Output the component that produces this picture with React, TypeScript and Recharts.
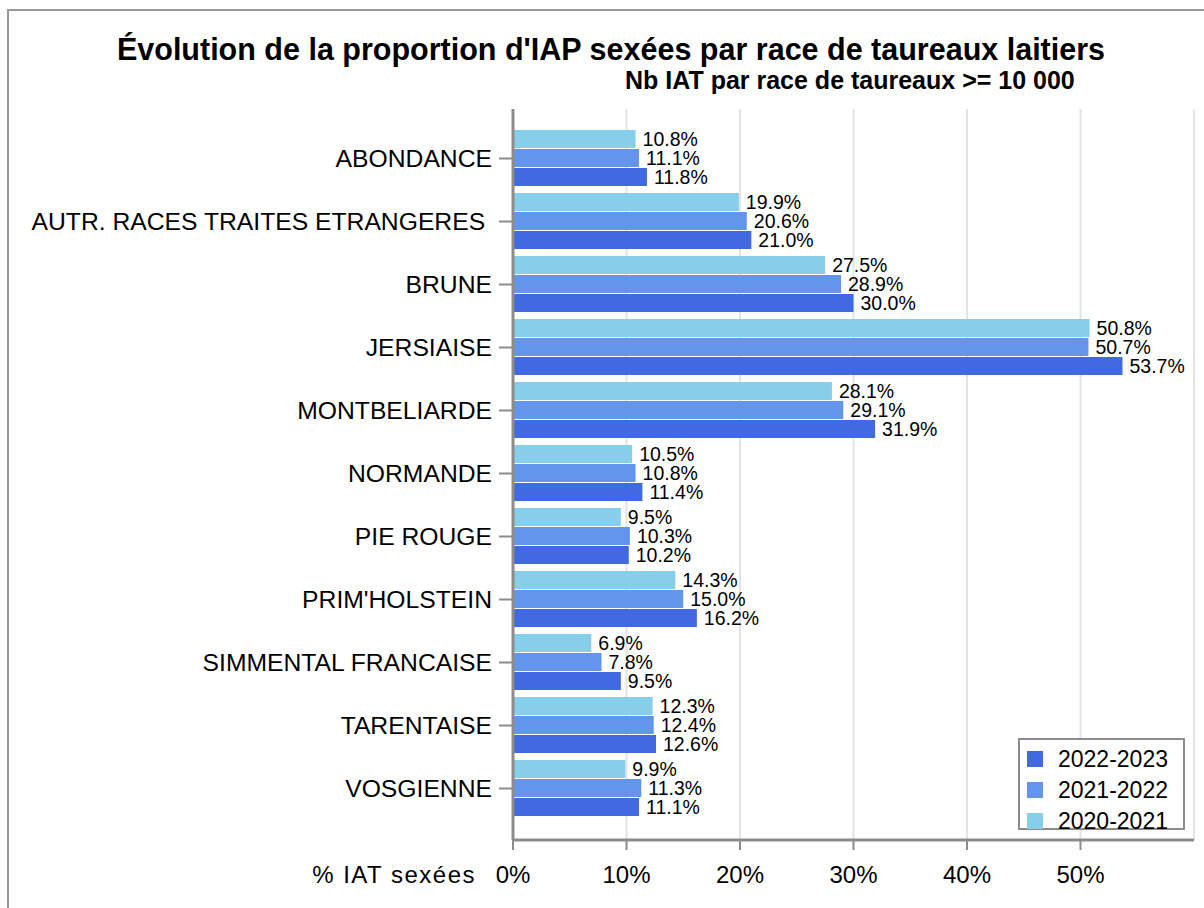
import React from 'react';
import { BarChart, Bar, XAxis, YAxis, CartesianGrid, LabelList } from 'recharts';

const races = [
  'ABONDANCE',
  'AUTR. RACES TRAITES ETRANGERES\u00A0',
  'BRUNE',
  'JERSIAISE',
  'MONTBELIARDE',
  'NORMANDE',
  'PIE ROUGE',
  "PRIM'HOLSTEIN",
  'SIMMENTAL FRANCAISE',
  'TARENTAISE',
  'VOSGIENNE',
];

const saison2020 = [10.8, 19.9, 27.5, 50.8, 28.1, 10.5, 9.5, 14.3, 6.9, 12.3, 9.9];
const saison2021 = [11.1, 20.6, 28.9, 50.7, 29.1, 10.8, 10.3, 15.0, 7.8, 12.4, 11.3];
const saison2022 = [11.8, 21.0, 30.0, 53.7, 31.9, 11.4, 10.2, 16.2, 9.5, 12.6, 11.1];

const xTicks = [0, 10, 20, 30, 40, 50];

const data = races.map((name, i) => ({
  name,
  s2020: saison2020[i],
  s2021: saison2021[i],
  s2022: saison2022[i],
}));

const FONT = '"Liberation Sans", Arial, sans-serif';
const AXIS_GREY = '#8c8c8c';

const series = [
  { key: 's2020', label: '2020-2021', color: '#87CEEB' },
  { key: 's2021', label: '2021-2022', color: '#6495ED' },
  { key: 's2022', label: '2022-2023', color: '#4169E1' },
];

const fmt = (v: any) => `${Number(v).toFixed(1)}%`;

export default function App() {
  return (
    <div style={{ position: 'relative', width: 1204, height: 908, overflow: 'hidden', fontFamily: FONT, background: '#fff' }}>
      <style>{`body{margin:0;overflow:hidden}`}</style>
      {/* cadre extérieur */}
      <div
        style={{
          position: 'absolute',
          left: 7,
          top: 9,
          width: 1260,
          height: 960,
          border: '2px solid #999',
        }}
      />
      <div
        style={{
          position: 'absolute',
          left: 0,
          width: 1222,
          top: 34.2,
          textAlign: 'center',
          fontSize: 30.5,
          lineHeight: '30.5px',
          fontWeight: 'bold',
          whiteSpace: 'nowrap',
        }}
      >
        Évolution de la proportion d'IAP sexées par race de taureaux laitiers
      </div>
      <div
        style={{
          position: 'absolute',
          left: 625,
          top: 68,
          fontSize: 25,
          lineHeight: '25px',
          fontWeight: 'bold',
          whiteSpace: 'nowrap',
        }}
      >
        Nb IAT par race de taureaux &gt;= 10 000
      </div>

      <div style={{ position: 'absolute', left: 0, top: 0 }}>
        <BarChart
          width={1204}
          height={908}
          data={data}
          layout="vertical"
          margin={{ top: 109, right: 10, bottom: 28, left: 0 }}
          barCategoryGap={3}
          barGap={1}
        >
          <CartesianGrid horizontal={false} stroke="#e4e4e4" strokeWidth={2} />
          <XAxis
            type="number"
            domain={[0, 60]}
            ticks={xTicks}
            tickFormatter={(v) => `${v}%`}
            height={40}
            tickSize={10}
            tickMargin={16}
            axisLine={{ stroke: AXIS_GREY, strokeWidth: 3 }}
            tickLine={{ stroke: AXIS_GREY, strokeWidth: 2 }}
            tick={{ fill: '#000', fontSize: 24, fontFamily: FONT }}
          />
          {/* bord supérieur du cadre du graphique */}
          <XAxis
            xAxisId="haut"
            orientation="top"
            type="number"
            domain={[0, 60]}
            height={0}
            tick={false}
            tickLine={false}
            axisLine={{ stroke: AXIS_GREY, strokeWidth: 3 }}
          />
          <YAxis
            type="category"
            dataKey="name"
            width={513}
            padding={{ top: 18, bottom: 20 }}
            tickSize={14}
            tickMargin={7}
            interval={0}
            axisLine={{ stroke: AXIS_GREY, strokeWidth: 3 }}
            tickLine={{ stroke: AXIS_GREY, strokeWidth: 2 }}
            tick={{ fill: '#000', fontSize: 24.7, fontFamily: FONT }}
          />
          {/* bord droit du cadre du graphique */}
          <YAxis
            yAxisId="droite"
            orientation="right"
            type="category"
            dataKey="name"
            width={0}
            tick={false}
            tickLine={false}
            axisLine={{ stroke: AXIS_GREY, strokeWidth: 3 }}
          />
          {series.map((s) => (
            <Bar key={s.key} dataKey={s.key} name={s.label} fill={s.color} isAnimationActive={false}>
              <LabelList
                dataKey={s.key}
                position="right"
                offset={7}
                formatter={fmt}
                style={{ fill: '#000', fontSize: 19.5, fontFamily: FONT }}
              />
            </Bar>
          ))}
        </BarChart>
      </div>

      <div
        style={{
          position: 'absolute',
          left: 1018,
          top: 738,
          width: 167,
          height: 92,
          boxSizing: 'border-box',
          border: `2px solid ${AXIS_GREY}`,
          background: '#fff',
        }}
      >
        {[...series].reverse().map((s, i) => (
          <div
            key={s.key}
            style={{
              position: 'absolute',
              left: 7,
              top: 5 + i * 31,
              height: 28,
              display: 'flex',
              alignItems: 'center',
              fontSize: 23,
              whiteSpace: 'nowrap',
            }}
          >
            <span style={{ display: 'inline-block', width: 16, height: 16, background: s.color, marginRight: 15 }} />
            {s.label}
          </div>
        ))}
      </div>

      <div
        style={{
          position: 'absolute',
          right: 1204 - 476,
          top: 862.7,
          fontSize: 24,
          lineHeight: '24px',
          letterSpacing: 1.5,
          whiteSpace: 'nowrap',
        }}
      >
        % IAT sexées
      </div>
    </div>
  );
}
